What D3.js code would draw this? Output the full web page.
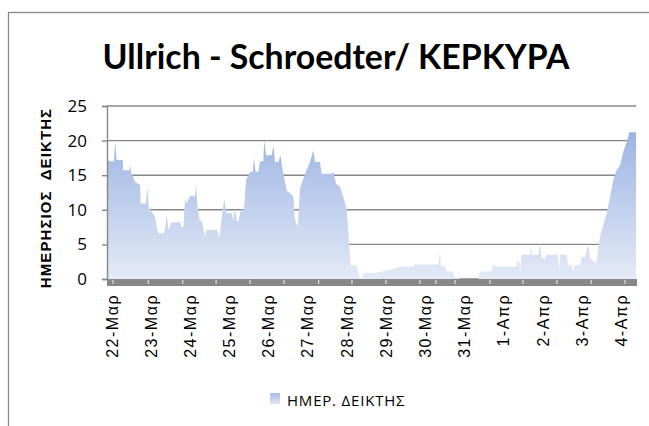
<!DOCTYPE html>
<html>
  <head>
  <meta charset="UTF-8">
  <title>Ullrich - Schroedter / KEPKYPA</title>
  <script src="https://cdn.jsdelivr.net/npm/d3@7/dist/d3.min.js"></script>
  <style>
    body {
      margin: 0;
      background: #FFF;
    }
    .grid line {
      stroke: #878787;
      stroke-width: 1.4;
    }
  </style>
  </head>
  <body>
    <script>

      // Hours since 22-Mar 00:00 and the daily index

      let hours = [-2.9, -0.6, 1.4, 2.0, 2.4, 3.0, 6.7, 7.1, 10.8, 11.2, 11.8, 14.3, 17.3, 17.7, 21.0, 21.8, 22.6, 26.5, 27.5, 28.6,
        31.6, 32.6, 33.7, 34.7, 36.7, 41.8, 42.8, 43.9, 44.9, 45.9, 47.9, 51.0, 51.6, 52.4, 54.0, 55.1, 57.1, 58.1, 64.3, 65.9,
        67.9, 69.0, 70.0, 73.5, 74.5, 75.5, 76.5, 77.5, 79.0, 81.0, 82.2, 84.7, 86.3, 87.1, 88.1, 89.8, 90.8, 92.8, 93.4, 94.5,
        97.9, 99.0, 100.0, 102.0, 103.4, 104.3, 107.1, 109.2, 111.2, 112.2, 113.9, 115.3, 118.4, 121.4, 123.4, 124.5, 127.5, 128.6, 134.7, 135.7,
        137.3, 139.8, 141.8, 143.9, 146.3, 150.0, 151.6, 153.0, 154.1, 155.1, 162.2, 177.5, 178.5, 184.7, 185.3, 200.0, 201.0, 201.6, 204.0, 205.1,
        209.1, 210.2, 212.2, 212.6, 213.2, 224.4, 224.9, 226.5, 232.6, 233.6, 234.7, 247.9, 248.3, 249.5, 250.0, 251.0, 256.1, 256.5, 257.1, 261.2,
        262.2, 263.2, 265.3, 266.3, 272.4, 272.8, 274.0, 274.4, 278.5, 279.5, 281.6, 282.6, 283.6, 286.7, 287.7, 289.8, 291.8, 292.8, 295.9, 296.9,
        298.9, 303.0, 305.1, 307.1, 309.1, 311.2, 313.2, 315.3, 316.9, 321.0];

      let values = [17.2, 17.0, 17.0, 19.8, 19.0, 17.2, 17.2, 15.7, 15.7, 16.6, 15.5, 14.0, 13.6, 10.9, 10.9, 13.3, 10.4, 9.0, 7.5, 6.6,
        6.6, 7.1, 9.3, 7.1, 8.2, 8.2, 7.5, 7.5, 11.6, 10.9, 12.0, 12.0, 13.6, 10.7, 8.3, 8.6, 6.1, 7.1, 7.1, 5.9,
        10.0, 11.4, 9.5, 9.5, 8.3, 10.4, 8.3, 8.3, 10.0, 10.0, 14.3, 15.5, 15.5, 17.5, 15.5, 15.5, 17.0, 17.0, 20.1, 17.9,
        17.9, 19.3, 16.9, 16.9, 17.9, 16.2, 12.8, 12.4, 11.9, 8.5, 7.5, 13.1, 15.2, 16.9, 18.6, 16.9, 16.9, 15.2, 15.2, 15.5,
        13.8, 13.3, 11.8, 10.0, 2.0, 2.0, 0.3, 0.1, 0.8, 0.9, 0.9, 1.8, 1.8, 1.8, 2.1, 2.1, 3.9, 1.8, 1.8, 1.1,
        1.1, 0.1, 0.1, 1.0, 0.0, 0.0, 0.8, 1.1, 1.1, 2.2, 1.8, 1.8, 2.6, 2.6, 1.1, 3.5, 3.5, 4.7, 3.5, 3.5,
        5.4, 3.0, 3.0, 3.5, 3.5, 4.0, 1.3, 3.5, 3.5, 2.0, 2.0, 1.1, 2.0, 2.0, 3.2, 3.2, 5.1, 3.0, 2.3, 2.5,
        6.1, 9.5, 11.9, 14.3, 15.7, 16.4, 18.4, 19.8, 21.2, 21.2];

      // Day labels (one per midnight) and the tick marks on the axis band

      let dayLabels = ["22-Μαρ", "23-Μαρ", "24-Μαρ", "25-Μαρ", "26-Μαρ", "27-Μαρ", "28-Μαρ",
        "29-Μαρ", "30-Μαρ", "31-Μαρ", "1-Απρ", "2-Απρ", "3-Απρ", "4-Απρ"];
      let dayHours = [0, 24, 48, 72, 96, 120, 144, 168, 192, 216, 240, 264, 288, 312];
      let tickHours = [0.8, 22.4, 43.5, 63.9, 84.7, 105.5, 126.7, 147.1, 167.9, 188.7, 198.5,
        210.2, 231.6, 251.8, 272.6, 293.5, 314.3];

      let yTicks = [0, 5, 10, 15, 20, 25];

      let data = hours.map(function(h, i) { return { hour: h, value: values[i] }; });

      // Chart size

      var width = 649, height = 426;
      var plot = { left: 107, right: 636, top: 106, bottom: 279 };

      var svg = d3.select("body")
        .append("svg")
          .attr("width", width)
          .attr("height", height);

      // Gradient used by the area and the legend swatch

      var defs = svg.append("defs");

      var x = d3.scaleLinear().domain([hours[0], hours[hours.length - 1]]).range([plot.left, plot.right]);
      var y = d3.scaleLinear().domain([0, 25]).range([plot.bottom, plot.top]);

      var grad = defs.append("linearGradient")
        .attr("id", "areaGrad")
        .attr("gradientUnits", "userSpaceOnUse")
        .attr("x1", 0).attr("x2", 0)
        .attr("y1", y(d3.max(values))).attr("y2", y(0));
      grad.append("stop").attr("offset", "0%").attr("stop-color", "#9cb4e3");
      grad.append("stop").attr("offset", "100%").attr("stop-color", "#e4eaf6");

      var legGrad = defs.append("linearGradient")
        .attr("id", "legGrad")
        .attr("x1", 0).attr("x2", 0).attr("y1", 0).attr("y2", 1);
      legGrad.append("stop").attr("offset", "0%").attr("stop-color", "#a6bbe6");
      legGrad.append("stop").attr("offset", "100%").attr("stop-color", "#dde4f4");

      defs.append("filter")
        .attr("id", "soft")
        .append("feGaussianBlur")
          .attr("stdDeviation", 0.5);

      // Chart border (runs past the picture on the right and bottom)

      svg.append("rect")
        .attr("x", 8.5)
        .attr("y", 12.5)
        .attr("width", 700)
        .attr("height", 500)
        .attr("fill", "none")
        .attr("stroke", "#8a8a8a")
        .attr("stroke-width", 1.3);

      // Title

      svg.append("text")
        .attr("x", 336)
        .attr("y", 69)
        .attr("text-anchor", "middle")
        .attr("textLength", 467)
        .attr("lengthAdjust", "spacingAndGlyphs")
        .style("font-family", "Lato, sans-serif")
        .style("font-weight", "bold")
        .style("font-size", "35px")
        .text("Ullrich - Schroedter/ KEPKYPA");

      // Horizontal grid lines

      svg.append("g")
        .attr("class", "grid")
        .selectAll("line")
        .data(yTicks)
        .enter().append("line")
          .attr("x1", plot.left)
          .attr("x2", plot.right)
          .attr("y1", function(d) { return y(d); })
          .attr("y2", function(d) { return y(d); });

      // Area

      var area = d3.area()
        .x(function(d) { return x(d.hour); })
        .y0(y(0))
        .y1(function(d) { return y(d.value); });

      svg.append("path")
        .datum(data)
        .attr("d", area)
        .attr("fill", "url(#areaGrad)")
        .attr("filter", "url(#soft)");

      // Y axis

      var yAxis = d3.axisLeft(y)
        .tickValues(yTicks)
        .tickSize(5)
        .tickPadding(15);

      var gy = svg.append("g")
        .attr("transform", "translate(" + plot.left + ",0)")
        .call(yAxis);
      gy.select(".domain").attr("stroke", "#878787").attr("stroke-width", 1.4);
      gy.selectAll(".tick line").attr("stroke", "#878787").attr("stroke-width", 1.4);
      gy.selectAll(".tick text")
        .attr("fill", "#000")
        .style("font-family", "'Open Sans', sans-serif")
        .style("font-size", "17px");

      // X axis band with its tick marks

      svg.append("rect")
        .attr("x", plot.left)
        .attr("y", y(0))
        .attr("width", plot.right - plot.left + 1)
        .attr("height", 7)
        .attr("fill", "#878787");

      svg.append("g")
        .selectAll("line")
        .data(tickHours)
        .enter().append("line")
          .attr("x1", function(d) { return x(d); })
          .attr("x2", function(d) { return x(d); })
          .attr("y1", y(0) + 1)
          .attr("y2", y(0) + 5)
          .attr("stroke", "#f2f2f2")
          .attr("stroke-width", 1);

      // Day labels, rotated

      svg.append("g")
        .selectAll("text")
        .data(dayLabels)
        .enter().append("text")
          .attr("transform", function(d, i) {
            return "translate(" + x(dayHours[i]) + "," + 294 + ") rotate(-90)";
          })
          .attr("dy", "0.36em")
          .attr("text-anchor", "end")
          .style("font-family", "'Liberation Sans', Arial, sans-serif")
          .style("font-size", "16px")
          .style("letter-spacing", "1.5px")
          .text(function(d) { return d; });

      // Y axis title

      svg.append("text")
        .attr("transform", "translate(51," + 198 + ") rotate(-90)")
        .attr("text-anchor", "middle")
        .style("font-family", "'Liberation Sans', Arial, sans-serif")
        .style("font-weight", "bold")
        .style("font-size", "15px")
        .style("letter-spacing", "1.1px")
        .style("white-space", "pre")
        .text("ΗΜΕΡΗΣΙΟΣ  ΔΕΙΚΤΗΣ");

      // Legend

      svg.append("rect")
        .attr("x", 270)
        .attr("y", 393)
        .attr("width", 10)
        .attr("height", 11)
        .attr("fill", "url(#legGrad)");

      svg.append("text")
        .attr("x", 287)
        .attr("y", 406)
        .style("font-family", "'Open Sans', sans-serif")
        .style("font-size", "15px")
        .style("letter-spacing", "0.8px")
        .text("ΗΜΕΡ. ΔΕΙΚΤΗΣ");

    </script>
  </body>
</html>
